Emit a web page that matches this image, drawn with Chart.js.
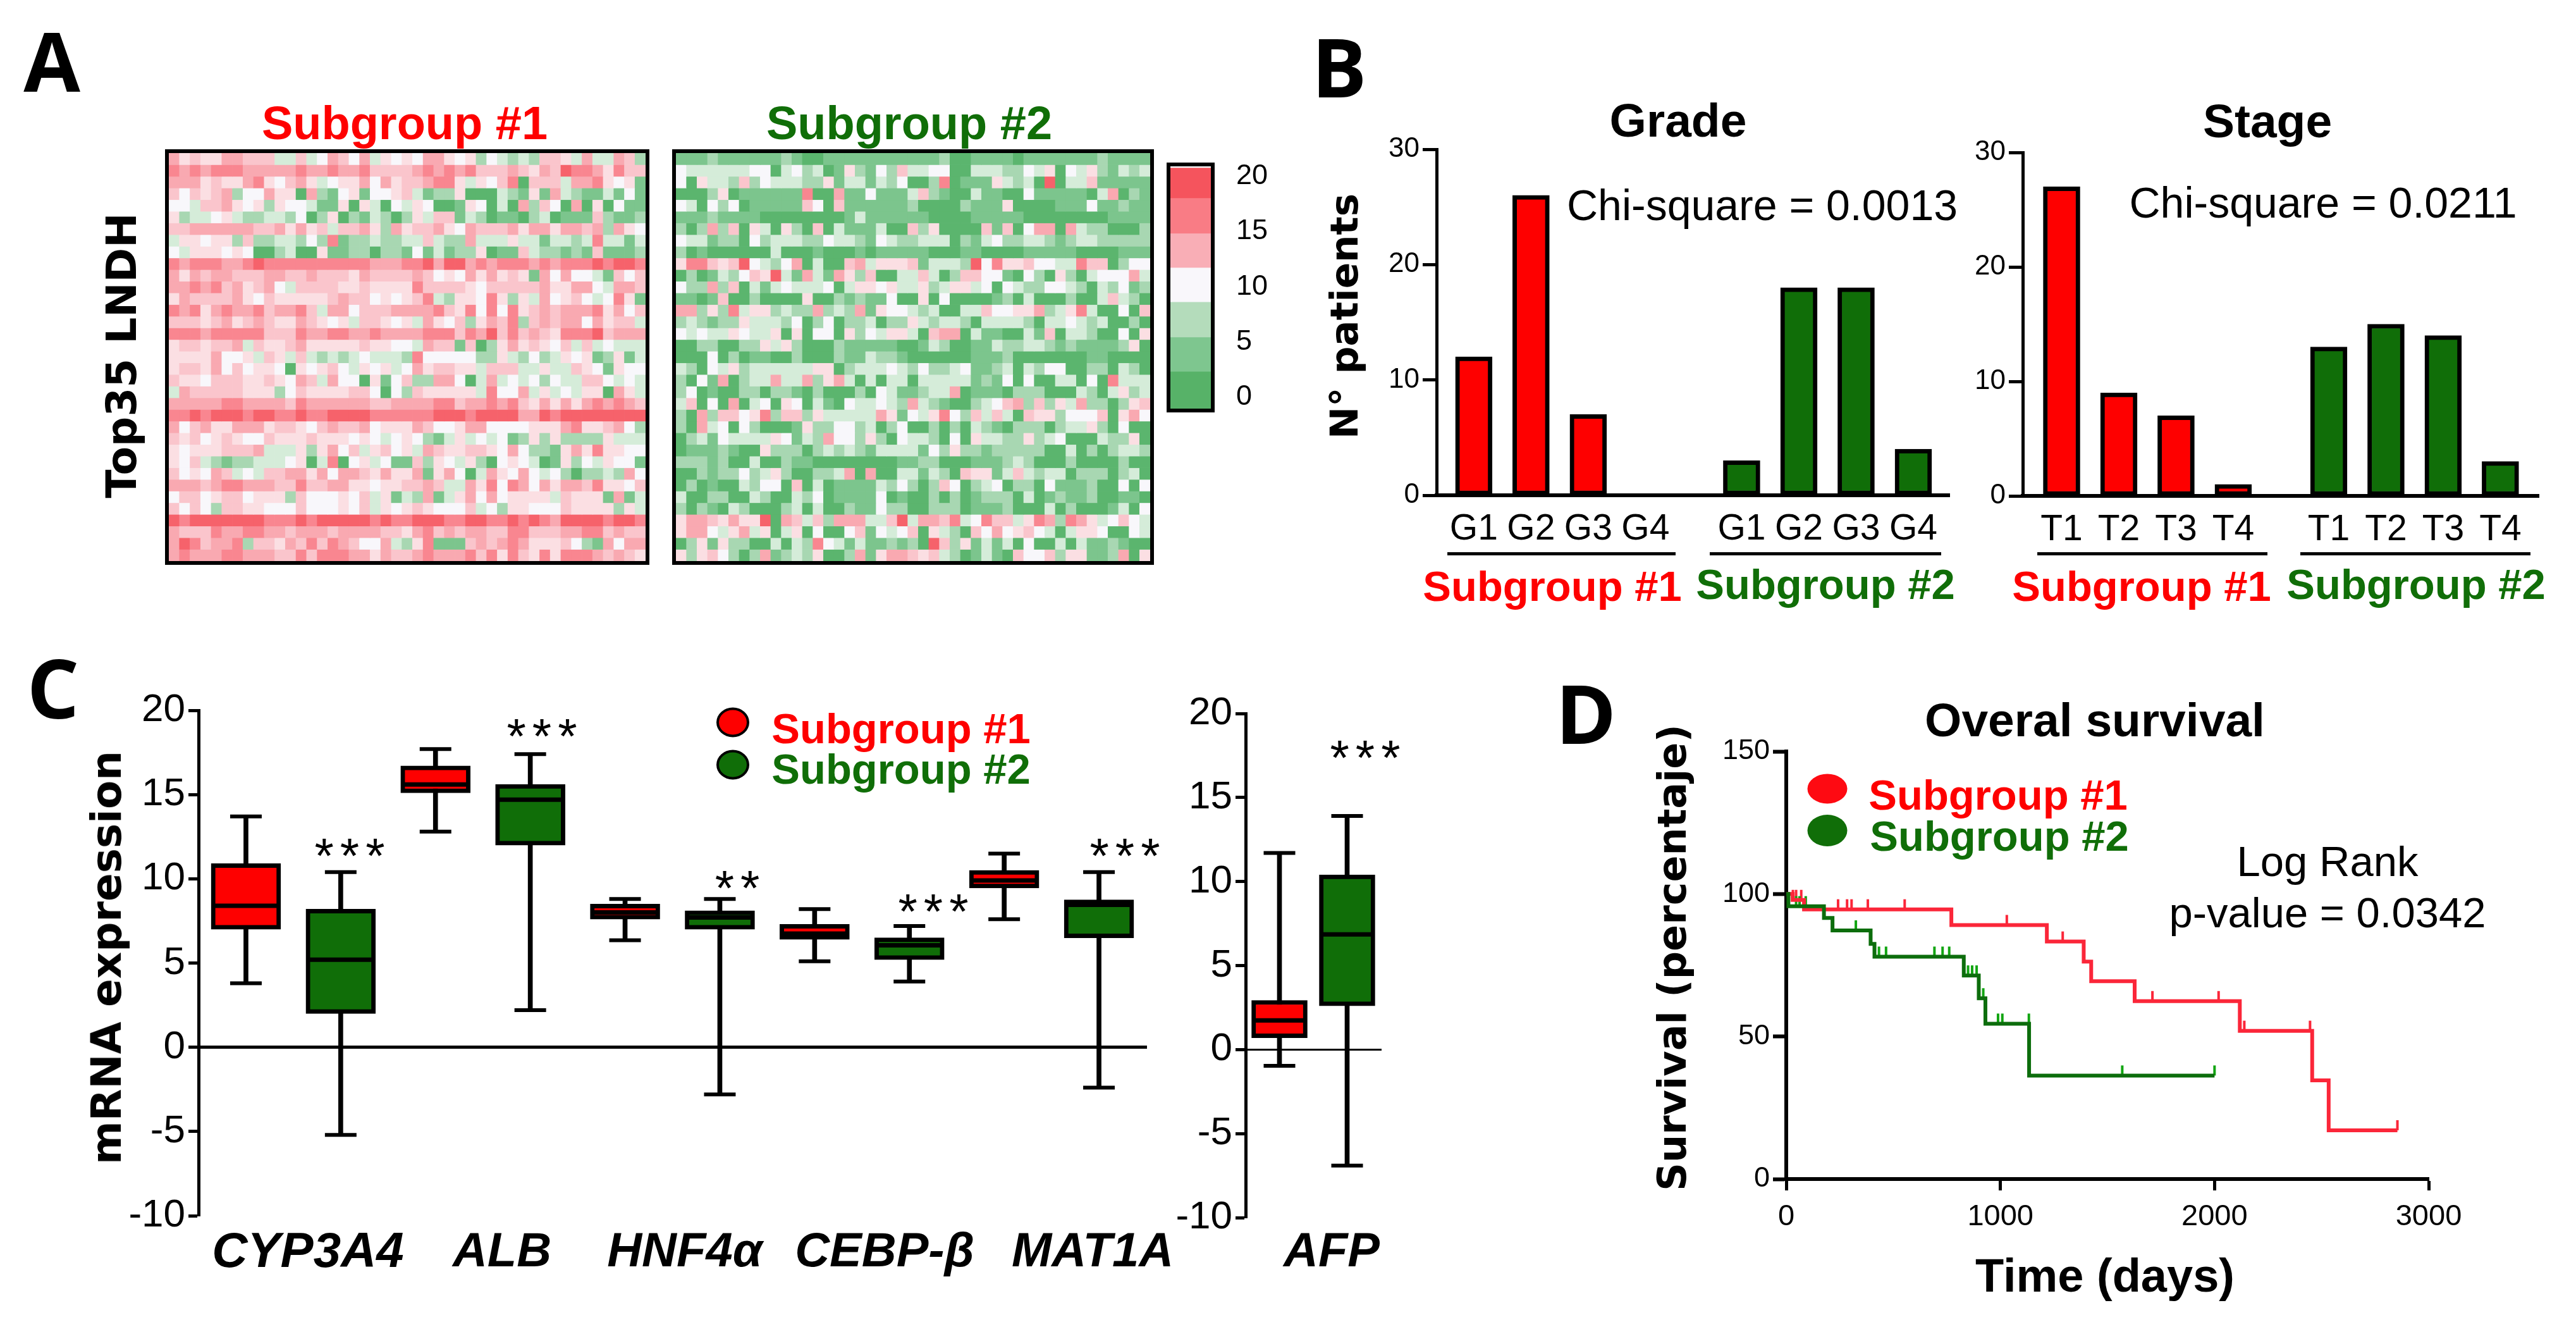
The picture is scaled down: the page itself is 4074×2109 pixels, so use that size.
<!DOCTYPE html>
<html>
<head>
<meta charset="utf-8">
<title>Subgroups</title>
<script src="https://cdn.jsdelivr.net/npm/chart.js@4"></script>
<style>
    html, body { margin: 0; padding: 0; background: #fff; }
    #page { position: relative; width: 4074px; height: 2109px; overflow: hidden; background: #fff; }
    canvas { position: absolute; }
    .txt { position: absolute; white-space: nowrap; transform: translate(-50%, -50%); font-family: "Liberation Sans", sans-serif; color: #000; line-height: 1; }
    .rule { position: absolute; background: #000; height: 5px; }
    .dot { position: absolute; border-radius: 50%; transform: translate(-50%, -50%); box-sizing: border-box; }
</style>
</head>
<body>
<div id="page"></div>
<script>
// Heatmap cells, one string per row (35 rows, 45 columns), shade 0 = green ... 9 = red
const heatGroup1 = [
    "75655 77666 33634 76473 54547 75452 43232 66537 33762",
    "87878 88777 77877 87786 66678 78786 66765 76988 75866",
    "77756 55785 46753 45574 75667 88535 46806 66377 85451",
    "64656 72447 55072 14514 45631 22500 03215 17321 13141",
    "44366 75452 54431 15053 04354 00154 03072 64070 50411",
    "52334 53223 32402 50213 20253 66132 01102 30111 62112",
    "66777 77766 75756 36675 27566 75476 66757 75776 72754",
    "35545 52622 33242 81223 22336 32273 33533 13323 83313",
    "43555 45400 23005 11220 22141 31225 01163 22121 61112",
    "87888 77898 88888 88887 77889 79978 78887 87888 98998",
    "75767 76667 76676 66576 66676 45475 75651 74744 31646",
    "77878 67567 43666 65565 55586 66654 66666 75577 43776",
    "57666 67546 55555 67664 54568 32554 85253 74564 34851",
    "87857 87786 77863 77466 67777 86584 84856 76777 85746",
    "66656 75676 55765 45366 54537 54625 76826 76774 75663",
    "88878 88886 66877 88778 77778 88687 96867 65888 96777",
    "56656 67365 56755 55565 54437 66160 25756 54636 34333",
    "55557 44536 53632 32343 33284 44442 25324 23545 12513",
    "56657 46455 40545 64354 53475 66553 66633 53365 41544",
    "65546 66556 54763 74405 14622 77403 73434 24336 64343",
    "37666 66555 24655 55664 04265 55553 84473 53435 50753",
    "77777 88777 76877 77776 67777 88677 87865 75757 87876",
    "88989 99899 88988 99998 88888 99989 99977 98999 99999",
    "74675 57775 66546 76674 55576 44577 44445 55785 56742",
    "65645 65446 55565 55454 34542 13534 34125 25222 25333",
    "54555 66673 33525 74635 64537 65566 54742 21575 85544",
    "54632 12233 34503 80453 41162 54352 04543 01524 35441",
    "64547 63436 67757 47765 75571 57403 75474 34202 23274",
    "77767 88777 66866 77554 55667 63375 84874 75776 85546",
    "46645 66455 52644 45463 51327 13574 74555 53655 51713",
    "64642 66554 44644 45463 54565 44463 42554 44655 55253",
    "98999 99998 88989 99998 98899 98899 88989 87999 98998",
    "76668 77887 76777 67777 66578 67677 66886 66778 86766",
    "79867 78266 57686 87644 73258 11167 67875 55642 17477",
    "78777 88777 66868 88775 76678 77786 85865 85888 76765",
];
const heatGroup2 = [
    "11121 11111 21001 11111 11111 20011 11011 11111 21111",
    "43333 33440 34230 15214 26334 40033 32243 50435 21323",
    "40533 26243 33225 13313 24002 80111 53230 90336 11111",
    "00025 01111 11800 71141 11362 10031 10041 11110 37021",
    "43042 40111 11640 61111 11200 00211 15000 01114 11211",
    "11121 11100 00000 01311 11110 00011 11100 00000 01111",
    "20272 60530 52060 31113 00625 00006 16047 70732 20002",
    "43312 20423 33224 33214 32233 30213 42233 21233 22222",
    "20100 00003 00010 00101 11110 00110 00011 11100 00111",
    "58865 69432 47030 06735 55613 33294 85564 43386 60244",
    "02013 24659 31731 75260 03363 02664 41042 05203 44473",
    "42272 60313 43334 03554 53352 35534 04322 44320 32412",
    "11016 00200 00500 21211 40050 40000 12030 00200 36320",
    "77252 83552 32272 32715 44323 00336 44557 23583 00406",
    "23212 25333 24024 02230 22532 33203 33320 33432 30020",
    "43433 54335 05044 05243 55306 77031 10031 60332 00405",
    "00220 02253 52000 21111 10013 20011 32233 21211 11250",
    "00040 20110 02000 21132 21000 00011 12000 00001 10000",
    "32043 52333 33355 02333 43242 23411 23032 44002 20320",
    "20417 02337 33725 73030 33033 33312 14040 03304 08333",
    "24010 02202 21020 00204 31123 37011 10222 00032 03523",
    "36040 70340 54031 04334 32732 10023 46726 25372 20256",
    "20726 64582 66253 33337 51435 84263 63065 52444 60574",
    "20734 04200 01522 44230 24002 02032 10222 02335 20400",
    "02314 33335 41327 44252 04332 04053 32252 34000 32250",
    "01112 10052 22023 23213 33314 25221 22222 00302 02332",
    "22212 00300 21100 00000 01122 00011 12320 00200 00200",
    "00212 24235 20022 37070 03313 20655 13632 33022 20230",
    "02010 03244 06030 11113 24202 64023 40220 41112 00404",
    "30022 00320 03240 11114 01002 02012 22030 12112 00110",
    "20210 32000 23030 02114 22002 22011 12000 30200 01304",
    "57765 75590 76362 77733 69377 68348 66358 72875 34643",
    "57743 57350 35040 04614 34605 32064 74564 30355 40043",
    "02515 22003 03284 31311 21209 62513 13040 03031 12100",
    "52564 20271 23250 02715 77656 32013 10644 62551 12705",
];
const colorbarEdges = [-1.03, 2.3, 5.4, 8.6, 11.7, 14.8, 18, 20.75];

// Panel B
const gradeLabels = ["G1", "G2", "G3", "G4", "G1", "G2", "G3", "G4"];
const gradeCounts = [12, 26, 7, 0, 3, 18, 18, 4];
const stageLabels = ["T1", "T2", "T3", "T4", "T1", "T2", "T3", "T4"];
const stageCounts = [27, 9, 7, 1, 13, 15, 14, 3];

// Panel C: red and green box for each gene in turn
const boxLabels = ["CYP3A4 #1", "CYP3A4 #2", "ALB #1", "ALB #2", "HNF4a #1", "HNF4a #2", "CEBP-b #1", "CEBP-b #2", "MAT1A #1", "MAT1A #2"];
const boxLow = [3.8, -5.2, 12.8, 2.2, 6.35, -2.8, 5.1, 3.9, 7.6, -2.4];
const boxQ1 = [7.0, 2.0, 15.1, 12.0, 7.6, 7.0, 6.4, 5.2, 9.45, 6.5];
const boxMedian = [8.4, 5.2, 15.6, 14.7, 8.0, 7.7, 6.75, 6.05, 9.9, 8.45];
const boxQ3 = [10.9, 8.2, 16.7, 15.6, 8.5, 8.1, 7.3, 6.5, 10.5, 8.75];
const boxHigh = [13.7, 10.4, 17.7, 17.4, 8.8, 8.8, 8.2, 7.2, 11.5, 10.4];

const afpLabels = ["AFP #1", "AFP #2"];
const afpLow = [-0.97, -6.9];
const afpQ1 = [0.7, 2.6];
const afpMedian = [1.73, 6.85];
const afpQ3 = [2.93, 10.4];
const afpHigh = [11.7, 13.9];

// Panel D: survival steps and censored patients
const redDays = [0, 30, 83, 771, 1217, 1389, 1424, 1627, 2118, 2456, 2533, 2854];
const redSurvival = [100, 97.9, 94.6, 89.1, 83.3, 76.3, 69.4, 62.4, 52, 34.6, 17.1, 17.1];
const redCensored = [31, 46, 70, 242, 284, 305, 381, 553, 1030, 1291, 1710, 2019, 2139, 2446, 2854];
const greenDays = [0, 10, 176, 216, 394, 412, 829, 899, 930, 1134, 2000];
const greenSurvival = [100, 95.7, 91.6, 87.2, 82.5, 78, 71.4, 63.4, 54.5, 36.3, 36.3];
const greenCensored = [10, 46, 62, 91, 325, 412, 433, 466, 692, 730, 761, 849, 868, 889, 920, 989, 1009, 1133, 1569, 2000];

const RED = "#fe0000";
const GREEN = "#106e08";
const SANS = "'Liberation Sans', sans-serif";
const heatShades = ["#5bb56e", "#7cc58d", "#a8d7b2", "#d5ecd9", "#f8f7fb", "#fbdfe3", "#fac5cc", "#f9a9b1", "#f98690", "#f6626b"];
const colorbarShades = ["#57b268", "#7ec68f", "#b4dcbb", "#f9f7fb", "#f9aeb6", "#f97c85", "#f5545d"];

Chart.defaults.animation = false;
Chart.defaults.color = "#000";
Chart.defaults.plugins.legend.display = false;
Chart.defaults.plugins.tooltip.enabled = false;

const page = document.getElementById("page");

// Black box around the plot area (heatmaps and colour bar)
const framePlugin = {
    id: "frame",
    afterDraw(chart) {
        const a = chart.chartArea;
        const c = chart.ctx;
        c.save();
        c.strokeStyle = "#000";
        c.lineWidth = 6;
        c.strokeRect(a.left - 3, a.top - 3, a.right - a.left + 6, a.bottom - a.top + 6);
        c.restore();
    },
};

// area = where the plot area must land on the page, pad = room around it for the axes
function place(area, pad, config) {
    const canvas = document.createElement("canvas");
    canvas.width = area.r - area.l + pad.l + pad.r;
    canvas.height = area.b - area.t + pad.t + pad.b;
    canvas.style.left = area.l - pad.l + "px";
    canvas.style.top = area.t - pad.t + "px";
    page.appendChild(canvas);
    config.options.responsive = false;
    config.options.devicePixelRatio = 1;
    return new Chart(canvas.getContext("2d"), config);
}

function leftAxis(min, max, step, size, width, tickLen, axisWidth) {
    return {
        min: min,
        max: max,
        ticks: { stepSize: step, font: { family: SANS, size: size }, color: "#000", padding: 5 },
        grid: { drawOnChartArea: false, tickLength: tickLen, tickWidth: axisWidth, tickColor: "#000" },
        border: { color: "#000", width: axisWidth },
        afterFit(scale) { scale.width = width; },
    };
}

function heatmap(rows, area) {
    const levels = rows.map((r) => r.replace(/ /g, "").split("").map(Number));
    const columns = levels[0].map((_, i) => i + 1);
    place(area, { l: 8, r: 8, t: 8, b: 8 }, {
        type: "bar",
        data: {
            labels: columns,
            datasets: levels.map((row, r) => ({
                data: row.map(() => [r, r + 1]),
                backgroundColor: row.map((v) => heatShades[v]),
                grouped: false,
                barPercentage: 1,
                categoryPercentage: 1,
            })),
        },
        options: {
            layout: { padding: 8 },
            scales: {
                x: { display: false },
                y: { display: false, min: 0, max: rows.length, reverse: true },
            },
        },
        plugins: [framePlugin],
    });
}

function colorbar(area) {
    const bands = colorbarShades.map((shade, i) => ({
        data: [[colorbarEdges[i], colorbarEdges[i + 1]]],
        backgroundColor: shade,
        grouped: false,
        barPercentage: 1,
        categoryPercentage: 1,
    }));
    place(area, { l: 8, r: 100, t: 40, b: 40 }, {
        type: "bar",
        data: { labels: [""], datasets: bands },
        options: {
            layout: { padding: { left: 8, top: 40, bottom: 40 } },
            scales: {
                x: { display: false },
                y: {
                    position: "right",
                    min: -1.03,
                    max: 20.9,
                    // tick padding also shrinks the plot height, so the gap comes from an invisible tick
                    ticks: { stepSize: 5, includeBounds: false, font: { family: SANS, size: 45 }, color: "#000", padding: 0 },
                    grid: { drawOnChartArea: false, tickLength: 40, tickColor: "rgba(0,0,0,0)" },
                    border: { display: false },
                    afterFit(scale) { scale.width = 100; },
                },
            },
        },
        plugins: [framePlugin],
    });
}

function countBars(labels, counts, area, slotStart, slotEnd, slotGap) {
    // second subgroup sits a bit further right, the gap is not a whole category
    const xPos = labels.map((_, i) => (i < 4 ? slotStart + i : slotGap + i));
    place(area, { l: 110, r: 20, t: 50, b: 90 }, {
        type: "bar",
        data: {
            datasets: [{
                data: counts.map((v, i) => ({ x: xPos[i], y: v })),
                backgroundColor: counts.map((_, i) => (i < 4 ? RED : GREEN)),
                borderColor: "#000",
                borderWidth: 7,
                borderSkipped: false,
                barThickness: 58,
            }],
        },
        options: {
            layout: { padding: { top: 50, right: 20 } },
            scales: {
                x: {
                    type: "linear",
                    offset: false,
                    min: 0,
                    max: slotEnd,
                    afterBuildTicks(axis) { axis.ticks = xPos.map((v) => ({ value: v })); },
                    ticks: {
                        autoSkip: false,
                        maxRotation: 0,
                        padding: 20,
                        font: { family: SANS, size: 57 },
                        color: "#000",
                        callback: (v, i) => labels[i],
                    },
                    grid: { offset: false, drawOnChartArea: false, drawTicks: false },
                    border: { color: "#000", width: 6 },
                    afterFit(scale) { scale.height = 90; },
                },
                y: leftAxis(0, 30, 10, 44, 110, 22, 5),
            },
        },
    });
}

function boxPlot(labels, low, q1, median, q3, high, area, boxWidth, zeroWidth) {
    const fills = labels.map((_, i) => (i % 2 === 0 ? RED : GREEN));
    const marks = (values, radius, width) => ({
        type: "line",
        data: values,
        showLine: false,
        pointStyle: "line",
        pointRadius: radius,
        pointBorderWidth: width,
        pointBorderColor: "#000",
        order: 1,
    });
    place(area, { l: 130, r: 10, t: 80, b: 80 }, {
        type: "bar",
        data: {
            labels: labels,
            datasets: [
                { data: low.map((v, i) => [v, high[i]]), backgroundColor: "#000", barThickness: 7, grouped: false, order: 3 },
                { data: q1.map((v, i) => [v, q3[i]]), backgroundColor: fills, borderColor: "#000", borderWidth: 7, borderSkipped: false, barThickness: boxWidth, grouped: false, order: 2 },
                marks(low, 25, 6),
                marks(high, 25, 6),
                marks(median, boxWidth / 2 - 3, 7),
            ],
        },
        options: {
            layout: { padding: { top: 80, right: 10, bottom: 80 } },
            scales: {
                x: {
                    position: { y: 0 },
                    ticks: { display: false },
                    grid: { display: false },
                    border: { color: "#000", width: zeroWidth },
                },
                y: leftAxis(-10, 20, 5, 62, 130, 16, 5),
            },
        },
    });
}

// level of a step curve at day t
function survivalAt(days, levels, t) {
    let level = levels[0];
    days.forEach((d, i) => { if (d <= t) level = levels[i]; });
    return level;
}

function survivalChart(area) {
    const curve = (days, levels, color) => ({
        data: days.map((d, i) => ({ x: d, y: levels[i] })),
        showLine: true,
        stepped: true,
        borderColor: color,
        borderWidth: 6,
        pointRadius: 0,
        order: 1,
    });
    const censored = (times, days, levels, color) => ({
        data: times.map((t) => ({ x: t, y: survivalAt(days, levels, t) })),
        showLine: false,
        pointStyle: "dash",
        pointRotation: -90,
        pointRadius: 16,
        pointBorderWidth: 4,
        pointBorderColor: color,
        order: 2,
    });
    place(area, { l: 130, r: 80, t: 50, b: 90 }, {
        type: "scatter",
        data: {
            datasets: [
                curve(greenDays, greenSurvival, "#0c6d0c"),
                curve(redDays, redSurvival, "#fb2639"),
                censored(greenCensored, greenDays, greenSurvival, "#12a512"),
                censored(redCensored, redDays, redSurvival, "#fb2639"),
            ],
        },
        options: {
            layout: { padding: { top: 50, right: 80 } },
            scales: {
                x: {
                    type: "linear",
                    min: 0,
                    max: 3000,
                    ticks: { stepSize: 1000, maxRotation: 0, font: { family: SANS, size: 47 }, color: "#000", padding: 14, callback: (v) => String(v) },
                    grid: { drawOnChartArea: false, tickLength: 18, tickWidth: 5, tickColor: "#000" },
                    border: { color: "#000", width: 6 },
                    afterFit(scale) { scale.height = 90; },
                },
                y: leftAxis(0, 150, 50, 45, 130, 21, 6),
            },
        },
    });
}

function text(str, x, y, size, opts) {
    const o = opts || {};
    const el = document.createElement("div");
    el.className = "txt";
    el.textContent = str;
    el.style.left = x + "px";
    el.style.top = y + "px";
    el.style.fontSize = size + "px";
    if (o.weight) el.style.fontWeight = o.weight;
    if (o.color) el.style.color = o.color;
    if (o.family) el.style.fontFamily = o.family;
    if (o.italic) el.style.fontStyle = "italic";
    if (o.spacing) el.style.letterSpacing = o.spacing + "px";
    if (o.rotate) el.style.transform = "translate(-50%, -50%) rotate(" + o.rotate + "deg)";
    page.appendChild(el);
}

function rule(x1, x2, y) {
    const el = document.createElement("div");
    el.className = "rule";
    el.style.left = x1 + "px";
    el.style.width = x2 - x1 + "px";
    el.style.top = y + "px";
    page.appendChild(el);
}

function dot(x, y, w, h, color, edge) {
    const el = document.createElement("div");
    el.className = "dot";
    el.style.left = x + "px";
    el.style.top = y + "px";
    el.style.width = w + "px";
    el.style.height = h + "px";
    el.style.background = color;
    if (edge) el.style.border = "4px solid #000";
    page.appendChild(el);
}

// Charts
heatmap(heatGroup1, { l: 267, r: 1021, t: 242, b: 887 });
heatmap(heatGroup2, { l: 1069, r: 1819, t: 242, b: 887 });
colorbar({ l: 1851, r: 1915, t: 263, b: 646 });
countBars(gradeLabels, gradeCounts, { l: 2272, r: 3083, t: 236, b: 783 }, 0.65, 8.96, 1.33);
countBars(stageLabels, stageCounts, { l: 3199, r: 4015, t: 241, b: 784 }, 0.68, 9.02, 1.35);
boxPlot(boxLabels, boxLow, boxQ1, boxMedian, boxQ3, boxHigh, { l: 314, r: 1862, t: 1123, b: 1922 }, 110, 5);
boxPlot(afpLabels, afpLow, afpQ1, afpMedian, afpQ3, afpHigh, { l: 1970, r: 2222, t: 1128, b: 1925 }, 88, 3);
survivalChart({ l: 2825, r: 3841, t: 1188, b: 1864 });

// Panel letters
const LETTER = { weight: 700, family: "'Open Sans', sans-serif" };
text("A", 82, 95, 130, LETTER);
text("B", 2118, 104, 130, LETTER);
text("C", 84, 1086, 130, LETTER);
text("D", 2508, 1126, 130, LETTER);

// Panel A
const BOLD_RED = { weight: 700, color: RED };
const BOLD_GREEN = { weight: 700, color: GREEN };
const WIDE = { weight: 700, family: "'DejaVu Sans', sans-serif", rotate: -90 };
text("Subgroup #1", 640, 195, 74, BOLD_RED);
text("Subgroup #2", 1438, 195, 74, BOLD_GREEN);
text("Top35 LNDH", 193, 562, 66, WIDE);

// Panel B
text("Grade", 2654, 190, 75, { weight: 700 });
text("Stage", 3586, 191, 75, { weight: 700 });
text("N\u00b0 patients", 2125, 500, 61, WIDE);
text("Chi-square = 0.0013", 2787, 324, 68);
text("Chi-square = 0.0211", 3674, 320, 68);
rule(2289, 2650, 873);
rule(2704, 3070, 873);
rule(3222, 3586, 873);
rule(3638, 4002, 873);
text("Subgroup #1", 2455, 926, 67, BOLD_RED);
text("Subgroup #2", 2887, 923, 67, BOLD_GREEN);
text("Subgroup #1", 3387, 926, 67, BOLD_RED);
text("Subgroup #2", 3821, 923, 67, BOLD_GREEN);

// Panel C
text("mRNA expression", 169, 1514, 66, WIDE);
const GENE = { weight: 700, italic: true };
text("CYP3A4", 487, 1976, 78, GENE);
text("ALB", 794, 1976, 76, GENE);
text("HNF4\u03b1", 1083, 1976, 76, GENE);
text("CEBP-\u03b2", 1399, 1976, 76, GENE);
text("MAT1A", 1728, 1976, 76, GENE);
text("AFP", 2106, 1976, 76, GENE);
const STAR = { spacing: 10 };
text("***", 558, 1353, 78, STAR);
text("***", 862, 1164, 78, STAR);
text("**", 1171, 1404, 78, STAR);
text("***", 1481, 1441, 78, STAR);
text("***", 1784, 1353, 78, STAR);
text("***", 2164, 1198, 78, STAR);
dot(1159, 1142, 52, 47, RED, true);
dot(1159, 1209, 52, 47, GREEN, true);
text("Subgroup #1", 1425, 1151, 67, BOLD_RED);
text("Subgroup #2", 1425, 1215, 67, BOLD_GREEN);

// Panel D
text("Overal survival", 3313, 1138, 75, { weight: 700 });
text("Survival (percentaje)", 2645, 1514, 62, WIDE);
text("Time (days)", 3329, 2017, 74, { weight: 700 });
dot(2890, 1247, 63, 47, "#fe0a12");
dot(2890, 1313, 63, 50, GREEN);
text("Subgroup #1", 3160, 1256, 67, BOLD_RED);
text("Subgroup #2", 3162, 1321, 67, BOLD_GREEN);
text("Log Rank", 3681, 1361, 67);
text("p-value = 0.0342", 3681, 1442, 67);
</script>
</body>
</html>
